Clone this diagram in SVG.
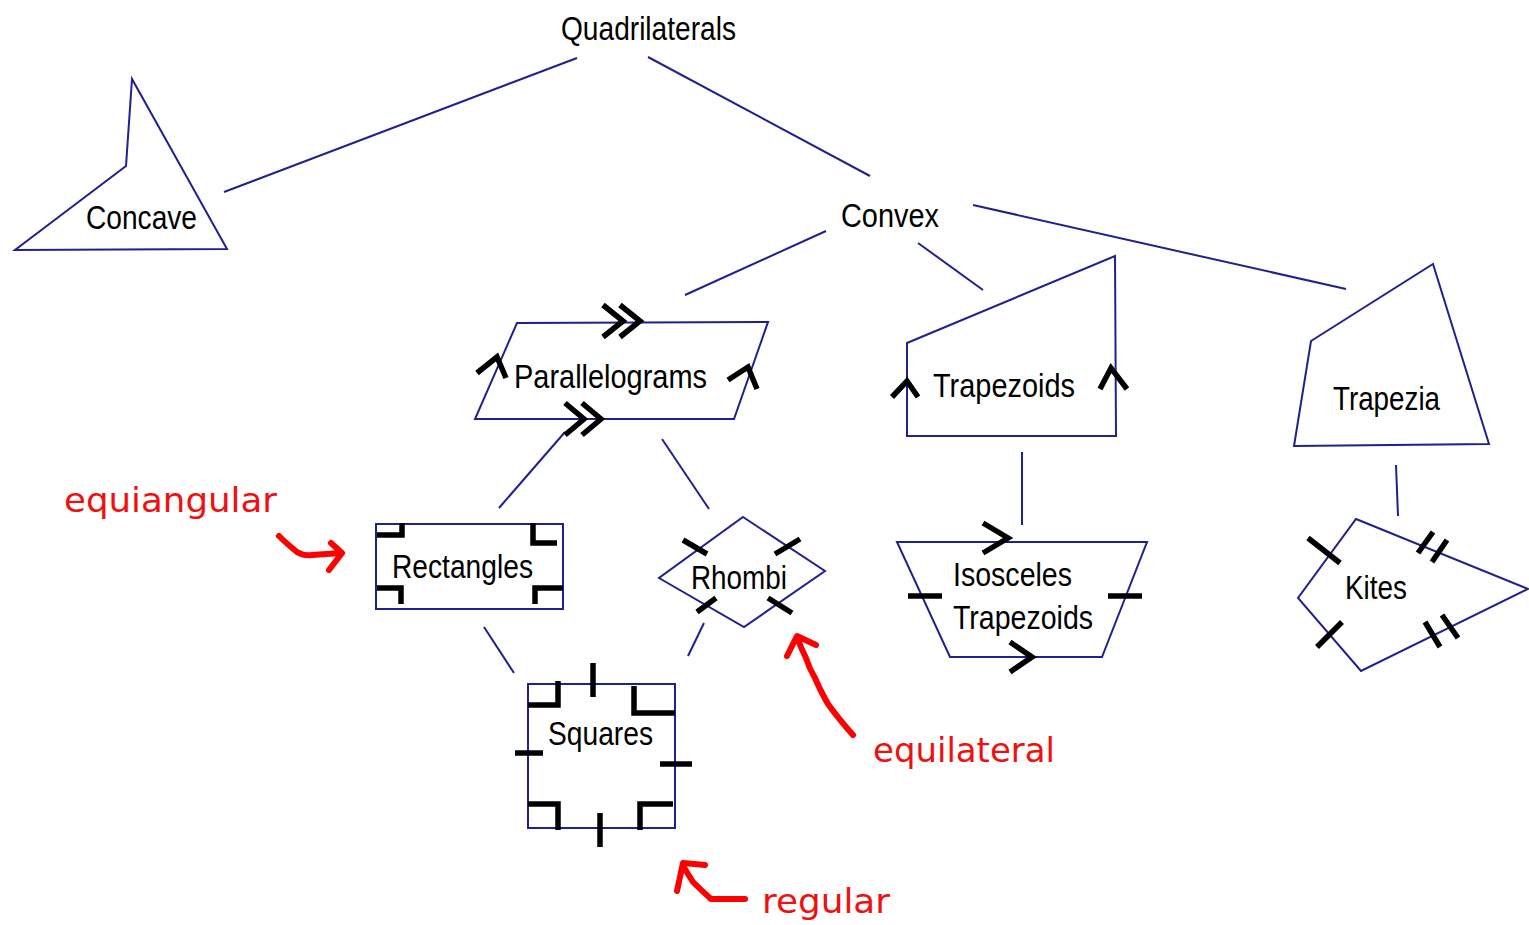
<svg xmlns="http://www.w3.org/2000/svg" width="1529" height="925" viewBox="0 0 1529 925">
<style>
.shape{fill:none;stroke:#20208f;stroke-width:2;stroke-linejoin:miter}
.conn{fill:none;stroke:#20208f;stroke-width:2}
.mark{fill:none;stroke:#000;stroke-width:5.5;stroke-linecap:butt;stroke-linejoin:miter}
.lbl{font-family:"Liberation Sans",Arial,sans-serif;font-size:33px;fill:#000}
.red{font-family:"DejaVu Sans",Verdana,sans-serif;font-size:34px;fill:#f01010}
.rarrow{fill:none;stroke:#ff0000;stroke-width:6;stroke-linecap:round;stroke-linejoin:round}
</style>
<rect width="1529" height="925" fill="#fff"/>
<g id="connectors">
<line class="conn" x1="577" y1="58" x2="224" y2="192"/>
<line class="conn" x1="648" y1="57" x2="870" y2="176"/>
<line class="conn" x1="826" y1="231" x2="685" y2="295"/>
<line class="conn" x1="918" y1="243" x2="983" y2="290"/>
<line class="conn" x1="973" y1="205" x2="1346" y2="289"/>
<line class="conn" x1="565" y1="432" x2="499" y2="508"/>
<line class="conn" x1="662" y1="439" x2="709" y2="509"/>
<line class="conn" x1="1022" y1="452" x2="1022" y2="525"/>
<line class="conn" x1="1396" y1="465" x2="1398" y2="516"/>
<line class="conn" x1="484" y1="627" x2="514" y2="673"/>
<line class="conn" x1="704" y1="623" x2="688" y2="656"/>
</g>
<g id="quadrilaterals">
<text class="lbl" x="561" y="40" textLength="175" lengthAdjust="spacingAndGlyphs">Quadrilaterals</text>
</g>
<g id="concave">
<polygon class="shape" points="132,79 126,166 15,250 227,249"/>
<text class="lbl" x="86" y="229" textLength="111" lengthAdjust="spacingAndGlyphs">Concave</text>
</g>
<g id="convex">
<text class="lbl" x="841" y="227" textLength="98" lengthAdjust="spacingAndGlyphs">Convex</text>
</g>
<g id="parallelograms">
<polygon class="shape" points="517,323 768,322 734,419 475,419"/>
<path class="mark" d="M603,305 L623,321 L603,337 M620,305 L640,321 L620,337"/>
<path class="mark" d="M565,403 L584,419 L565,435 M582,403 L601,419 L582,435"/>
<path class="mark" d="M477,373 L497,357 L506,378"/>
<path class="mark" d="M728,380 L748,367 L757,389"/>
<text class="lbl" x="514" y="388" textLength="193" lengthAdjust="spacingAndGlyphs">Parallelograms</text>
</g>
<g id="trapezoids">
<polygon class="shape" points="907,343 1115,256 1116,436 907,436"/>
<path class="mark" d="M892,397 L907,381 L918,397"/>
<path class="mark" d="M1100,389 L1111,368 L1127,389"/>
<text class="lbl" x="933" y="397" textLength="142" lengthAdjust="spacingAndGlyphs">Trapezoids</text>
</g>
<g id="trapezia">
<polygon class="shape" points="1311,341 1433,264 1489,444 1294,446"/>
<text class="lbl" x="1333" y="410" textLength="107" lengthAdjust="spacingAndGlyphs">Trapezia</text>
</g>
<g id="rectangles">
<rect class="shape" x="376" y="524" width="187" height="85"/>
<path class="mark" d="M377,535 L402,535 L402,523"/>
<path class="mark" d="M533,523 L533,543 L557,543"/>
<path class="mark" d="M377,588 L401,588 L401,604"/>
<path class="mark" d="M563,588 L535,588 L535,604"/>
<text class="lbl" x="392" y="578" textLength="141" lengthAdjust="spacingAndGlyphs">Rectangles</text>
</g>
<g id="rhombi">
<polygon class="shape" points="743,517 825,571 744,627 659,578"/>
<path class="mark" d="M683,540 L707,554 M775,554 L800,539 M697,612 L716,598 M768,598 L792,613"/>
<text class="lbl" x="691" y="589" textLength="96" lengthAdjust="spacingAndGlyphs">Rhombi</text>
</g>
<g id="isosceles-trapezoids">
<polygon class="shape" points="897,542 1147,542 1102,657 950,657"/>
<path class="mark" d="M983,523 L1008,538 L983,553"/>
<path class="mark" d="M1010,642 L1032,657 L1010,672"/>
<path class="mark" d="M908,596 L942,596 M1108,596 L1142,596"/>
<text class="lbl" x="953" y="586" textLength="119" lengthAdjust="spacingAndGlyphs">Isosceles</text>
<text class="lbl" x="953" y="629" textLength="140" lengthAdjust="spacingAndGlyphs">Trapezoids</text>
</g>
<g id="kites">
<polygon class="shape" points="1356,519 1528,589 1361,671 1298,598"/>
<path class="mark" d="M1308,538 L1340,563 M1317,647 L1342,622"/>
<path class="mark" d="M1418,553 L1433,532 M1432,562 L1447,540"/>
<path class="mark" d="M1425,622 L1440,647 M1442,615 L1458,638"/>
<text class="lbl" x="1345" y="599" textLength="62" lengthAdjust="spacingAndGlyphs">Kites</text>
</g>
<g id="squares">
<rect class="shape" x="528" y="684" width="147" height="144"/>
<path class="mark" d="M528,705 L558,705 L558,681"/>
<path class="mark" d="M593,663 L593,697"/>
<path class="mark" d="M634,686 L634,713 L675,713"/>
<path class="mark" d="M515,753 L543,753"/>
<path class="mark" d="M660,764 L692,764"/>
<path class="mark" d="M528,804 L558,804 L558,830"/>
<path class="mark" d="M600,813 L600,847"/>
<path class="mark" d="M673,804 L640,804 L640,830"/>
<text class="lbl" x="548" y="745" textLength="105" lengthAdjust="spacingAndGlyphs">Squares</text>
</g>
<g id="equiangular">
<text class="red" x="64" y="512" textLength="213" lengthAdjust="spacingAndGlyphs">equiangular</text>
<path class="rarrow" d="M279,536 Q286,543 297,552 Q303,556 312,555 L341,553 M331,543 L342,553 L329,570"/>
</g>
<g id="equilateral">
<text class="red" x="873" y="762" textLength="182" lengthAdjust="spacingAndGlyphs">equilateral</text>
<path class="rarrow" d="M853,735 Q838,718 828,704 Q820,690 815,678 Q809,668 806,658 Q801,648 797,637 M787,656 L797,636 L816,645"/>
</g>
<g id="regular">
<text class="red" x="762" y="913" textLength="128" lengthAdjust="spacingAndGlyphs">regular</text>
<path class="rarrow" d="M745,899 L711,899 Q701,890 693,882 L683,866 M705,865 L683,863 L677,891"/>
</g>
</svg>
